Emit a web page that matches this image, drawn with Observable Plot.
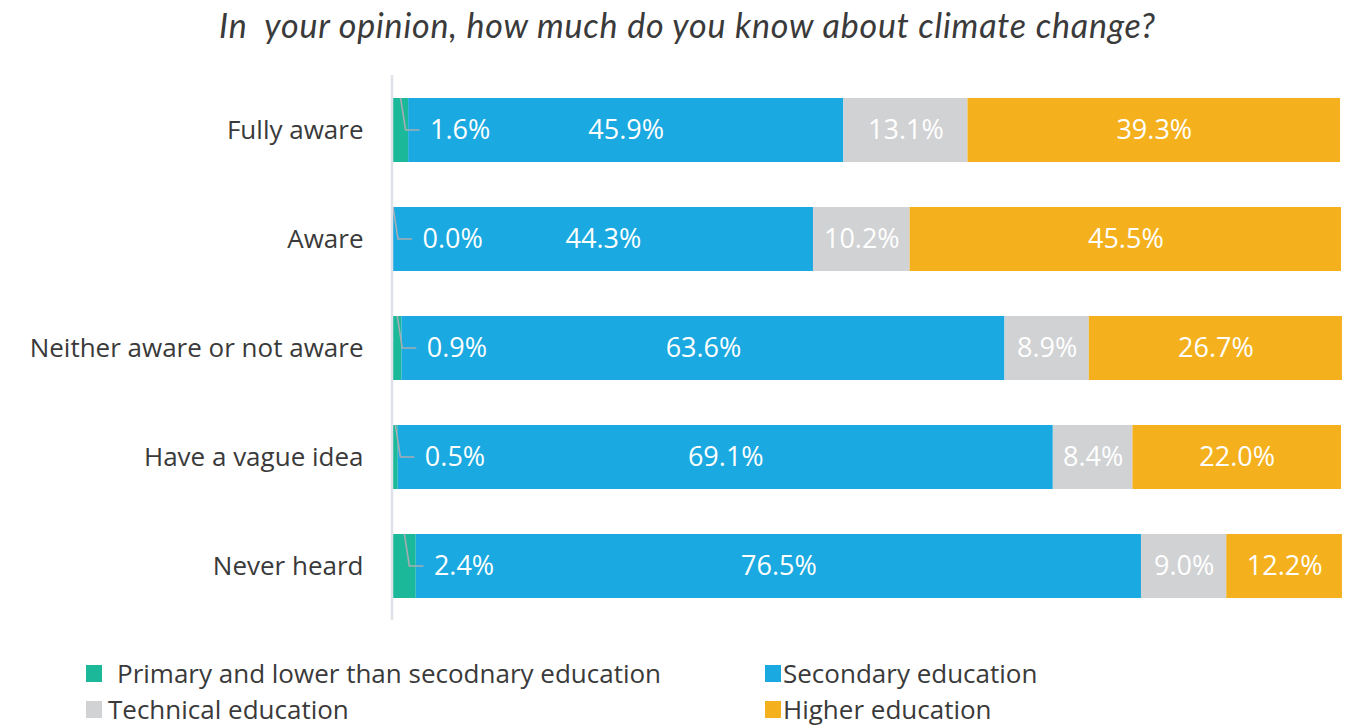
<!DOCTYPE html>
<html>
<head>
<meta charset="utf-8">
<script src="https://cdn.jsdelivr.net/npm/d3@7"></script>
<script src="https://cdn.jsdelivr.net/npm/@observablehq/plot@0.6"></script>
<style>
  html, body { margin: 0; padding: 0; background: #fff; }
  #title { height: 56px; line-height: 50px; text-align: center; font-family: Lato, sans-serif; font-style: italic; font-size: 34px; letter-spacing: 0.8px; color: #3a3a3a; padding-left: 20px; white-space: nowrap; }
  #legend { position: relative; height: 82px; font-family: "Open Sans", sans-serif; font-size: 26px; color: #3a3a3a; }
  .li { position: absolute; display: flex; align-items: center; white-space: nowrap; height: 34px; }
  .sw { width: 16px; height: 17px; display: inline-block; }
</style>
</head>
<body>
<div id="title">In&nbsp; your opinion, how much do you know about climate change?</div>
<div id="chart"></div>
<div id="legend"></div>
<script>
const categories = ["Fully aware", "Aware", "Neither aware or not aware", "Have a vague idea", "Never heard"];
const seriesNames = ["Primary and lower than secodnary education", "Secondary education", "Technical education", "Higher education"];
const primary   = [1.6, 0.0, 0.9, 0.5, 2.4];
const secondary = [45.9, 44.3, 63.6, 69.1, 76.5];
const technical = [13.1, 10.2, 8.9, 8.4, 9.0];
const higher    = [39.3, 45.5, 26.7, 22.0, 12.2];
const colors = ["#1BB99A", "#1AA9E0", "#D1D2D4", "#F4B11D"];

const series = [primary, secondary, technical, higher];
const rows = [];
categories.forEach((c, i) => {
  series.forEach((s, j) => rows.push({cat: c, edu: seriesNames[j], value: s[i], order: j}));
});
const primRows = categories.map((c, i) => ({cat: c, value: primary[i]}));

const leader = (index, scales, values, dimensions) => {
  const g = d3.create("svg:g");
  const bw = scales.y.bandwidth ? scales.y.bandwidth() : 64;
  primRows.forEach(d => {
    const xm = scales.x(d.value / 2);
    const top = scales.y(d.cat);
    const mid = top + bw / 2;
    g.append("path")
      .attr("d", `M${xm},${top}L${xm + 5},${mid}L${xm + 19},${mid}`)
      .attr("fill", "none")
      .attr("stroke", "#A9ADB3")
      .attr("stroke-width", 1.6);
  });
  return g.node();
};

const plot = Plot.plot({
  width: 1355,
  height: 590,
  marginLeft: 393,
  marginRight: 14,
  marginTop: 19,
  marginBottom: 26,
  x: {domain: [0, 100], axis: null},
  y: {domain: categories, paddingInner: 0.417, paddingOuter: 0.19, label: null, tickSize: 0, tickPadding: 30},
  color: {domain: seriesNames, range: colors},
  style: {fontFamily: "Open Sans, sans-serif", fontSize: "26px", color: "#3a3a3a"},
  marks: [
    Plot.barX(rows, Plot.stackX({x: "value", y: "cat", fill: "edu", z: "order", order: null})),
    Plot.text(rows, Plot.stackX({x: "value", y: "cat", z: "order", order: null, text: d => d.order > 0 ? d.value.toFixed(1) + "%" : "", fill: "white", fontSize: 27})),
    Plot.text(primRows, {x: d => d.value / 2, y: "cat", text: d => d.value.toFixed(1) + "%", fill: "white", fontSize: 27, textAnchor: "start", dx: 29}),
    leader,
    Plot.ruleX([0], {stroke: "#DFE1E8", strokeWidth: 2.5, dx: -1.5})
  ]
});
document.getElementById("chart").appendChild(plot);

const legend = document.getElementById("legend");
const pos = [[86, 27, 0, 15], [765, 27, 1, 2], [86, 63, 2, 6], [765, 63, 3, 2]];
pos.forEach(([x, y, j, gap]) => {
  const el = document.createElement("div");
  el.className = "li";
  el.style.left = x + "px";
  el.style.top = (y - 17) + "px";
  el.innerHTML = `<span class="sw" style="background:${colors[j]};margin-right:${gap}px"></span>${seriesNames[j]}`;
  legend.appendChild(el);
});
</script>
</body>
</html>
